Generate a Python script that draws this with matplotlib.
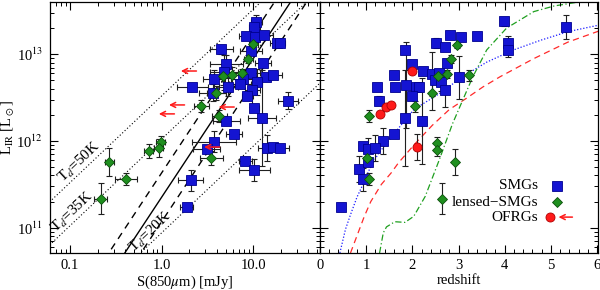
import numpy as np
import matplotlib
matplotlib.use("Agg")
import matplotlib.pyplot as plt
from matplotlib.ticker import LogLocator, NullFormatter, FixedLocator, FixedFormatter, MultipleLocator

plt.rcParams['font.family'] = ['Liberation Serif', 'DejaVu Serif']
plt.rcParams['mathtext.fontset'] = 'stix'
plt.rcParams['font.size'] = 10.5

# --- left panel: S(850) vs L_IR ---
# SMGs (blue squares)
smg_s850 = [10.8, 10.3, 8.4, 10.5, 13.2, 18.2, 19.7, 4.5, 9.5, 12.8, 5.1, 4.8, 9.5, 13.8, 16.5,
            3.7, 7.8, 11.1, 2.17, 5.35, 7.2, 3.6, 9.75, 8.6, 24.0, 10.3, 5.1, 12.5, 6.2, 3.7,
            3.1, 14.2, 16.5, 19.7, 8.2, 10.3, 2.07, 1.87]
smg_lir_s = [2.33e13, 2.04e13, 1.61e13, 1.57e13, 1.65e13, 1.34e13, 1.34e13, 1.14e13, 1.08e13, 7.9e12,
             7.7e12, 6.2e12, 6.0e12, 5.4e12, 5.7e12, 5.2e12, 5.2e12, 4.8e12, 4.2e12, 4.2e12,
             4.5e12, 3.6e12, 3.9e12, 3.3e12, 2.9e12, 2.4e12, 1.70e12, 1.84e12, 1.20e12, 9.8e11,
             8.1e11, 8.3e11, 8.5e11, 8.3e11, 5.9e11, 4.6e11, 3.5e11, 1.74e11]
# errors in dex
smg_s850_err = [.06, .06, .08, .08, .10, .08, .05, .13, .12, .09, .18, .15, .10, .12, .10,
                .12, .14, .05, .17, .10, .12, .15, .08, .06, .11, .05, .15, .15, .09, .24,
                .15, .10, .10, .10, .07, .17, .14, .07]
smg_lir_s_err = [.08, 0, 0, .05, 0, .04, 0, .05, 0, 0, .10, .20, 0, .0, 0,
                 .10, 0, .15, 0, .10, 0, .10, .20, .05, .10, 0, 0, .55, 0, .12,
                 0, .15, 0, 0, 0, .13, .12, 0]

# lensed SMGs (green diamonds)
lens_s850 = [10.0, 8.8, 4.7, 5.9, 7.6, 3.96, 2.72, 4.27, 0.98, 0.93, 0.72, 3.5, 0.27, 0.41, 0.217]
lens_lir_s = [1.30e13, 8.8e12, 5.6e12, 5.7e12, 6.0e12, 3.6e12, 2.5e12, 1.94e12, 9.8e11, 8.3e11,
              7.7e11, 6.4e11, 5.7e11, 3.6e11, 2.15e11]
lens_s850_err = [.05, .05, .10, .10, .10, .10, .08, .08, .05, .05, .05, .13, .05, .12, .07]
lens_lir_s_err = [.05, .05, .10, .10, .05, .08, .07, .07, .07, .10, .08, .08, .16, .07, .18]

# OFRGs: upper limits on S(850)
ofrg_s850_lim = [2.4, 1.78, 1.38, 6.2, 4.3]
ofrg_lir_s = [6.4e12, 2.6e12, 2.05e12, 2.46e12, 8.5e11]

# dust temperature tracks (L_IR at S=1 mJy) and L-S relation
td_labels = ['50K', '35K', '20K']
td_norm = [3.3e12, 1.05e12, 8.7e10]
fit_slope = 1.6
fit_norm = [2.24e11, 4.27e11, 1.17e11]

# --- right panel: redshift vs L_IR ---
smg_z = [3.99, 5.33, 2.82, 3.06, 3.39, 2.51, 2.71, 4.07, 4.07, 1.85, 2.00, 2.22, 1.61, 2.42, 2.58,
         3.00, 2.49, 2.62, 1.23, 1.63, 1.87, 2.07, 2.14, 2.71, 2.75, 1.28, 2.00, 1.85, 2.20, 1.61,
         1.37, 0.93, 1.04, 1.19, 0.84, 0.93, 1.04, 0.46]
smg_lir_z = [2.39e13, 2.04e13, 1.65e13, 1.57e13, 1.61e13, 1.34e13, 1.20e13, 1.34e13, 1.11e13, 1.11e13,
             7.7e12, 6.4e12, 5.7e12, 5.9e12, 6.0e12, 5.4e12, 5.0e12, 4.8e12, 4.2e12, 4.2e12,
             4.4e12, 4.2e12, 4.2e12, 3.9e12, 7.9e12, 2.9e12, 3.3e12, 1.84e12, 1.70e12, 1.20e12,
             1.0e12, 8.8e11, 8.1e11, 8.3e11, 4.8e11, 3.6e11, 5.7e11, 1.74e11]
smg_lir_z_err = [.05, .14, 0, 0, 0, .06, 0, .08, .08, 0, .05, 0, 0, .25, 0,
                 .25, 0, .10, 0, 0, .50, 0, 0, .20, .05, .05, 0, .55, .50, 0,
                 .15, 0, .13, .15, .15, .13, 0, 0]

lens_z = [2.97, 2.84, 3.22, 2.75, 2.56, 2.42, 2.05, 1.06, 2.53, 2.53, 1.01, 2.93, 1.06, 2.64]
lens_lir_z = [1.27e13, 8.8e12, 5.7e12, 5.9e12, 5.6e12, 3.6e12, 2.5e12, 1.94e12, 9.5e11, 7.9e11,
              6.4e11, 5.7e11, 3.6e11, 2.15e11]
lens_lir_z_err = [.03, .05, .06, .05, .05, .20, .06, .07, .07, .07, .10, .15, .07, .18]

ofrg_z = [2.00, 1.30, 1.43, 1.54, 2.09]
ofrg_lir_z = [6.4e12, 2.05e12, 2.46e12, 2.6e12, 8.5e11]
ofrg_lir_z_err = [.03, .03, .03, .03, .15]

# selection curves
blue_z = [0.43, 0.55, 0.66, 0.80, 0.93, 1.05, 1.26, 1.63, 2.03, 2.58, 3.09, 3.61, 4.19, 4.78, 5.37, 6.1]
blue_lir = [5.1e10, 9.5e10, 1.41e11, 2.24e11, 3.16e11, 4.47e11, 7.1e11, 1.26e12, 2.3e12, 3.5e12,
            5.5e12, 8.1e12, 1.12e13, 1.45e13, 1.82e13, 2.2e13]
red_z = [0.66, 0.96, 1.10, 1.33, 1.54, 1.70, 2.06, 2.43, 2.80, 3.17, 3.53, 3.90, 4.63, 5.37, 6.1]
red_lir = [5.1e10, 1.35e11, 2.0e11, 3.16e11, 4.27e11, 5.6e11, 9.3e11, 1.51e12, 2.3e12, 3.1e12,
           4.2e12, 5.5e12, 8.9e12, 1.38e13, 1.9e13]
green_z = [1.29, 1.37, 1.44, 1.62, 1.84, 2.03, 2.28, 2.58, 2.87, 3.09, 3.31, 3.61, 4.04, 4.63, 5.07, 5.6]
green_lir = [5.1e10, 8.7e10, 1.02e11, 1.17e11, 1.15e11, 1.35e11, 2.3e11, 6.0e11, 1.58e12, 2.95e12,
             5.5e12, 1.12e13, 2.0e13, 3.1e13, 3.6e13, 4.0e13]


def dex_err(v, d):
    v = np.asarray(v, dtype=float)
    d = np.asarray(d, dtype=float)
    return np.vstack([v * (1 - 10 ** -d), v * (10 ** d - 1)])


blue_kw = dict(marker='s', ms=6.5, mfc='#1414d2', mec='#000090', mew=0.6, ls='none', zorder=4)
green_kw = dict(marker='D', ms=5.2, mfc='#1f8f1f', mec='#0b4f0b', mew=0.6, ls='none', zorder=5)
red_kw = dict(marker='o', ms=6.5, mfc='#ff1a1a', mec='#b00000', mew=0.6, ls='none', zorder=6)
eb_kw = dict(fmt='none', ecolor='#202020', elinewidth=0.8, capsize=2.2, capthick=0.8, zorder=3)
arrow_kw = dict(arrowstyle='->', color='#ff1a1a', lw=1.1, mutation_scale=9, shrinkA=0, shrinkB=0)

fig = plt.figure(figsize=(6.0, 2.9), dpi=100)
ax1 = fig.add_axes([50 / 600, 37 / 290, 270 / 600, 251 / 290])
ax2 = fig.add_axes([320 / 600, 37 / 290, 278 / 600, 251 / 290], sharey=ax1)

ylim = (5.1e10, 4.0e13)

# ---- left panel ----
ax1.set_xscale('log')
ax1.set_yscale('log')
ax1.set_xlim(0.0606, 53.5)
ax1.set_ylim(*ylim)

s_ends = np.array([0.05, 60.0])
for lab, n in zip(td_labels, td_norm):
    ax1.plot(s_ends, n * s_ends, ls=(0, (1, 2)), color='k', lw=0.8, zorder=1)
ax1.plot(s_ends, fit_norm[0] * s_ends ** fit_slope, '-', color='k', lw=1.0, zorder=1)
for n in fit_norm[1:]:
    ax1.plot(s_ends, n * s_ends ** fit_slope, ls=(0, (5, 4)), color='k', lw=1.0, zorder=1)

ax1.errorbar(smg_s850, smg_lir_s, xerr=dex_err(smg_s850, smg_s850_err),
             yerr=dex_err(smg_lir_s, smg_lir_s_err), **eb_kw)
ax1.errorbar(lens_s850, lens_lir_s, xerr=dex_err(lens_s850, lens_s850_err),
             yerr=dex_err(lens_lir_s, lens_lir_s_err), **eb_kw)
ax1.plot(smg_s850, smg_lir_s, **blue_kw)
ax1.plot(lens_s850, lens_lir_s, **green_kw)
for s, l in zip(ofrg_s850_lim, ofrg_lir_s):
    ax1.annotate('', xy=(s / 10 ** 0.17, l), xytext=(s, l), arrowprops=arrow_kw, zorder=7)

# T_d labels along the dotted tracks
fig.canvas.draw()
p1 = ax1.transData.transform((1.0, 1e12))
p2 = ax1.transData.transform((10.0, 1e13))
ang = np.degrees(np.arctan2(p2[1] - p1[1], p2[0] - p1[0]))
td_pos_s = [0.146, 0.122, 0.88]
for lab, n, s in zip(td_labels, td_norm, td_pos_s):
    ax1.text(s, n * s, r'T$_d$=' + lab, rotation=ang, rotation_mode='anchor',
             ha='center', va='bottom', fontsize=11, zorder=2)

ax1.xaxis.set_major_locator(FixedLocator([0.1, 1.0, 10.0]))
ax1.xaxis.set_major_formatter(FixedFormatter(['0.1', '1.0', '10.0']))
ax1.xaxis.set_minor_locator(LogLocator(base=10, subs=np.arange(2, 10)))
ax1.xaxis.set_minor_formatter(NullFormatter())
ax1.yaxis.set_major_locator(FixedLocator([1e11, 1e12, 1e13]))
ax1.yaxis.set_major_formatter(FixedFormatter([r'10$^{11}$', r'10$^{12}$', r'10$^{13}$']))
ax1.yaxis.set_minor_locator(LogLocator(base=10, subs=np.arange(2, 10)))
ax1.yaxis.set_minor_formatter(NullFormatter())
ax1.set_xlabel(r'S(850$\mu$m) [mJy]')
ax1.set_ylabel(r'L$_{\rm IR}$ [L$_\odot$]')
ax1.xaxis.set_label_coords(0.5, -0.082)
ax1.yaxis.set_label_coords(-0.125, 0.5)

# ---- right panel ----
ax2.set_xlim(0, 6.02)
ax2.plot(blue_z, blue_lir, ls=(0, (1, 1.5)), color='#1a1aff', lw=0.9, zorder=1)
ax2.plot(red_z, red_lir, ls=(0, (5, 3.5)), color='#ff2a2a', lw=0.9, zorder=1)
ax2.plot(green_z, green_lir, ls=(0, (5, 2, 1, 2)), color='#1f9f1f', lw=0.9, zorder=1)

ax2.errorbar(smg_z, smg_lir_z, yerr=dex_err(smg_lir_z, smg_lir_z_err), **eb_kw)
ax2.errorbar(lens_z, lens_lir_z, yerr=dex_err(lens_lir_z, lens_lir_z_err), **eb_kw)
ax2.errorbar(ofrg_z, ofrg_lir_z, yerr=dex_err(ofrg_lir_z, ofrg_lir_z_err), **eb_kw)
ax2.plot(smg_z, smg_lir_z, **blue_kw)
ax2.plot(lens_z, lens_lir_z, **green_kw)
ax2.plot(ofrg_z, ofrg_lir_z, **red_kw)

ax2.xaxis.set_major_locator(MultipleLocator(1))
ax2.xaxis.set_minor_locator(MultipleLocator(0.2))
ax2.tick_params(axis='y', which='both', labelleft=False)
ax2.set_xlabel('redshift')
ax2.xaxis.set_label_coords(0.5, -0.082)

# legend drawn by hand
leg_txt = ['SMGs', 'lensed\u2212SMGs', 'OFRGs']
leg_y = [0.267, 0.203, 0.143]
for t, yy in zip(leg_txt, leg_y):
    ax2.text(0.784, yy, t, transform=ax2.transAxes, ha='right', va='center', fontsize=11)
ax2.plot([0.853], [leg_y[0]], transform=ax2.transAxes, clip_on=False, **blue_kw)
ax2.plot([0.853], [leg_y[1]], transform=ax2.transAxes, clip_on=False, **green_kw)
ax2.plot([0.826], [leg_y[2]], transform=ax2.transAxes, clip_on=False, **red_kw)
ax2.annotate('', xy=(0.858, leg_y[2]), xytext=(0.908, leg_y[2]), xycoords='axes fraction',
             arrowprops=arrow_kw)

for ax in (ax1, ax2):
    ax.tick_params(which='both', direction='in', top=True, right=True, labelsize=10.5)
    ax.tick_params(axis='x', which='both', pad=4)
    ax.tick_params(axis='y', which='both', pad=5)
    ax.tick_params(which='major', length=6, width=0.8)
    ax.tick_params(which='minor', length=3, width=0.7)
    for sp in ax.spines.values():
        sp.set_linewidth(0.9)

fig.savefig('out.png', dpi=100)
